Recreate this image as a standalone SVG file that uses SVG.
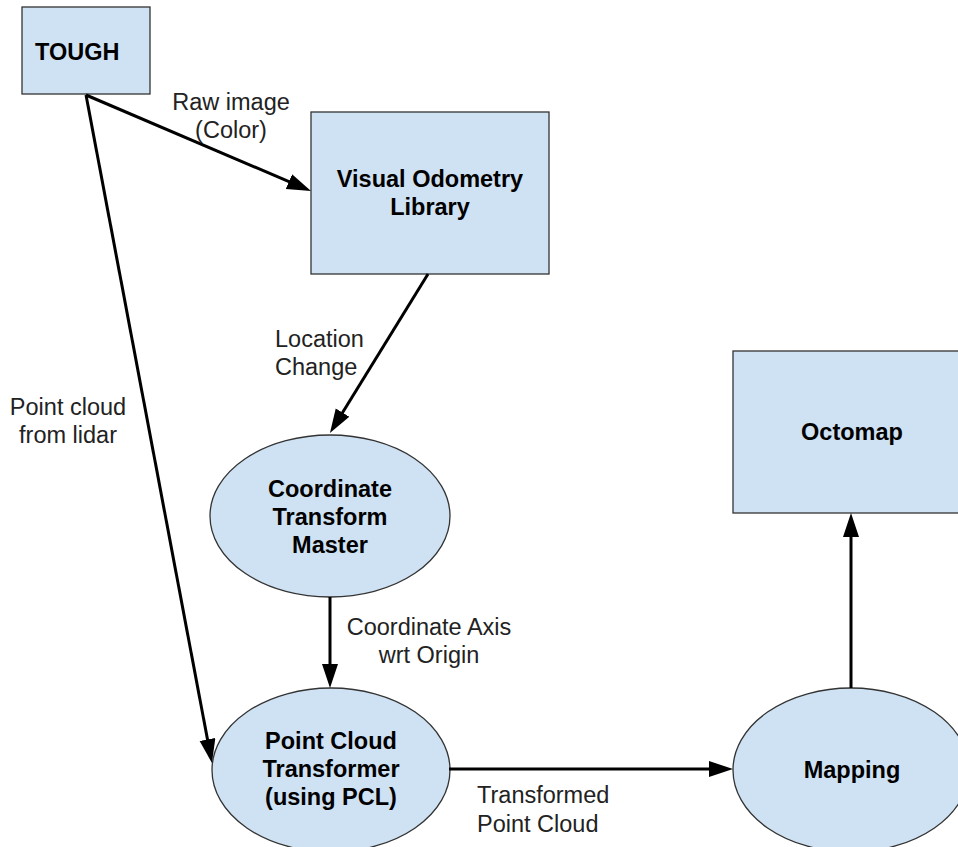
<svg xmlns="http://www.w3.org/2000/svg" width="958" height="847" viewBox="0 0 958 847">
<style>
.node{fill:#cfe2f3;stroke:#333;stroke-width:1.3}
.nt{font-family:"Liberation Sans",Arial,sans-serif;font-weight:bold;font-size:23.5px;fill:#000;text-anchor:middle}
.lt{font-family:"Liberation Sans",Arial,sans-serif;font-size:23.5px;fill:#222;text-anchor:middle}
.edge{stroke:#000;stroke-width:3;fill:none;marker-end:url(#ah)}
</style>
<defs>
<marker id="ah" markerUnits="userSpaceOnUse" markerWidth="26" markerHeight="18" refX="14" refY="8" orient="auto">
<path d="M0,0 L24,8 L0,16 z" fill="#000"/>
</marker>
</defs>
<rect width="958" height="847" fill="#fff"/>
<g id="tough"><rect class="node" x="22" y="7" width="128" height="87"/><text class="nt" x="35" y="60" style="text-anchor:start">TOUGH</text></g>
<g id="vo"><rect class="node" x="311" y="112" width="238" height="162"/><text class="nt" x="430" y="187">Visual Odometry</text><text class="nt" x="430" y="215">Library</text></g>
<g id="octomap"><rect class="node" x="733" y="351" width="240" height="162"/><text class="nt" x="852" y="440">Octomap</text></g>
<g id="ctm"><ellipse class="node" cx="330" cy="516" rx="120" ry="81"/><text class="nt" x="330" y="497">Coordinate</text><text class="nt" x="330" y="525">Transform</text><text class="nt" x="330" y="553">Master</text></g>
<g id="pct"><ellipse class="node" cx="331" cy="770" rx="119" ry="82"/><text class="nt" x="331" y="749">Point Cloud</text><text class="nt" x="331" y="777">Transformer</text><text class="nt" x="331" y="805">(using PCL)</text></g>
<g id="mapping"><ellipse class="node" cx="851" cy="770" rx="118" ry="82"/><text class="nt" x="852" y="778">Mapping</text></g>
<g id="connectors">
<line class="edge" x1="86" y1="95" x2="301.8" y2="187.1"/>
<line class="edge" x1="86" y1="95" x2="210.1" y2="753.2"/>
<line class="edge" x1="428" y1="274" x2="335.2" y2="424.5"/>
<line class="edge" x1="330" y1="597" x2="330" y2="678"/>
<line class="edge" x1="449" y1="769" x2="723" y2="769"/>
<line class="edge" x1="851" y1="688" x2="851" y2="523"/>
</g>
<g id="labels">
<text class="lt" x="231" y="110">Raw image</text><text class="lt" x="231" y="138">(Color)</text>
<text class="lt" x="275" y="347" style="text-anchor:start">Location</text><text class="lt" x="275" y="375" style="text-anchor:start">Change</text>
<text class="lt" x="68" y="415">Point cloud</text><text class="lt" x="68" y="443">from lidar</text>
<text class="lt" x="429" y="635">Coordinate Axis</text><text class="lt" x="429" y="663">wrt Origin</text>
<text class="lt" x="477" y="803" style="text-anchor:start">Transformed</text><text class="lt" x="477" y="832" style="text-anchor:start">Point Cloud</text>
</g>
</svg>
